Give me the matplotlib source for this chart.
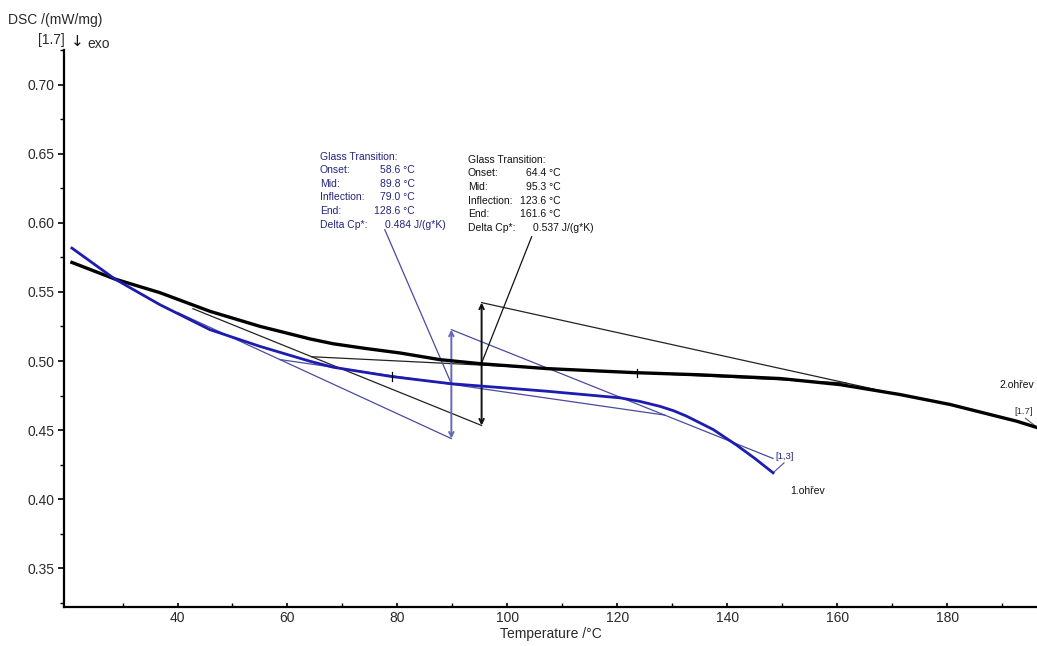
import matplotlib
matplotlib.use("Agg")
import matplotlib.pyplot as plt
from matplotlib.ticker import MultipleLocator, FixedLocator

plt.rcParams['font.family'] = ['Liberation Sans', 'DejaVu Sans']

# 1st heating (blue) - temperature / DSC
t1 = [20.8, 28.6, 36.8, 45.9, 55.0, 64.1, 68.3, 79.0, 89.6, 98.6, 107.2,
      120.5, 124.0, 127.7, 130.2, 132.6, 134.5, 137.4, 141.7, 145.0, 148.3]
dsc1 = [0.5818, 0.5594, 0.5408, 0.5227, 0.5106, 0.4998, 0.4955, 0.4887, 0.4836,
        0.4808, 0.4781, 0.4733, 0.4708, 0.4672, 0.4640, 0.4600, 0.4562, 0.4504,
        0.4390, 0.4294, 0.4190]

# 2nd heating (black)
t2 = [20.8, 28.6, 36.8, 45.9, 55.0, 64.1, 68.3, 74.0, 80.5, 87.7, 95.2, 107.2,
      123.0, 135.0, 149.6, 160.5, 171.4, 180.5, 192.6, 196.3]
dsc2 = [0.5714, 0.5594, 0.5495, 0.5360, 0.5251, 0.5160, 0.5125, 0.5092, 0.5058,
        0.5010, 0.4980, 0.4945, 0.4916, 0.4900, 0.4873, 0.4829, 0.4757, 0.4685,
        0.4564, 0.4518]

# glass transition evaluations
gt1 = {'onset': 58.6, 'mid': 89.8, 'infl': 79.0, 'end': 128.6, 'dcp': 0.484}
gt2 = {'onset': 64.4, 'mid': 95.3, 'infl': 123.6, 'end': 161.6, 'dcp': 0.537}

# baselines: (T start, v start, T end, v end)
base1_pre = (40.0, 0.5352, 89.8, 0.4438)
base1_post = (89.8, 0.5227, 148.3, 0.4294)
base2_pre = (42.8, 0.5379, 95.3, 0.4533)
base2_post = (95.3, 0.5423, 167.7, 0.4787)


def on_line(line, t):
    t0, v0, t1_, v1 = line
    return v0 + (v1 - v0) * (t - t0) / (t1_ - t0)


def interp(ts, vs, t):
    for i in range(len(ts) - 1):
        if ts[i] <= t <= ts[i + 1]:
            return vs[i] + (vs[i + 1] - vs[i]) * (t - ts[i]) / (ts[i + 1] - ts[i])
    return vs[-1]


blue = '#1c1cb0'
blue_thin = '#4b4b9e'
blue_arrow = '#6767b8'
blue_text = '#24247e'

fig = plt.figure(figsize=(10.37, 6.46), dpi=100)
ax = fig.add_axes([64 / 1037, 1 - 607 / 646, 1 - 64 / 1037, (607 - 50) / 646])

ax.plot(t2, dsc2, color='black', lw=2.4, zorder=5, solid_joinstyle='round')
ax.plot(t1, dsc1, color=blue, lw=2.0, zorder=5, solid_joinstyle='round')


def construction(gt, pre, post, line_col, arrow_col, curve_t, curve_v):
    ax.plot([pre[0], pre[2]], [pre[1], pre[3]], color=line_col, lw=0.9)
    ax.plot([post[0], post[2]], [post[1], post[3]], color=line_col, lw=0.9)
    ax.plot([gt['onset'], gt['end']],
            [on_line(pre, gt['onset']), on_line(post, gt['end'])], color=line_col, lw=0.9)
    ax.annotate('', xy=(gt['mid'], pre[3]), xytext=(gt['mid'], post[1]),
                arrowprops=dict(arrowstyle='<->', color=arrow_col, lw=1.4,
                                shrinkA=0, shrinkB=0, mutation_scale=8))
    vi = interp(curve_t, curve_v, gt['infl'])
    ax.plot([gt['infl'], gt['infl']], [vi - 0.003, vi + 0.003], color='black', lw=0.9, zorder=6)


construction(gt1, base1_pre, base1_post, blue_thin, blue_arrow, t1, dsc1)
construction(gt2, base2_pre, base2_post, '#222222', '#111111', t2, dsc2)

# leader lines from the result boxes to the mid points
ax.plot([77.7, gt1['mid']], [0.5951, interp(t1, dsc1, gt1['mid'])], color=blue_thin, lw=0.9)
ax.plot([104.4, gt2['mid']], [0.5900, 0.4985], color='#111111', lw=0.9)


def result_box(x, y, gt, col, val_right, dcp_left):
    rows = [('Onset:', '%.1f °C' % gt['onset']), ('Mid:', '%.1f °C' % gt['mid']),
            ('Inflection:', '%.1f °C' % gt['infl']), ('End:', '%.1f °C' % gt['end'])]
    dy = 13.5
    fs = 7.5
    fig.text(x / 1037, 1 - y / 646, 'Glass Transition:', color=col, fontsize=fs,
             va='center', ha='left')
    for i, (lab, val) in enumerate(rows, 1):
        yy = 1 - (y + i * dy) / 646
        fig.text(x / 1037, yy, lab, color=col, fontsize=fs, va='center', ha='left')
        fig.text(val_right / 1037, yy, val, color=col, fontsize=fs, va='center', ha='right')
    yy = 1 - (y + 5 * dy) / 646
    fig.text(x / 1037, yy, 'Delta Cp*:', color=col, fontsize=fs, va='center', ha='left')
    fig.text(dcp_left / 1037, yy, '%.3f J/(g*K)' % gt['dcp'], color=col, fontsize=fs,
             va='center', ha='left')


result_box(320, 157, gt1, blue_text, 415, 385)
result_box(468, 160, gt2, '#111111', 561, 533)

# curve labels
ax.text(189.5, 0.4829, '2.ohřev', fontsize=7.5, color='#111111', va='center')
ax.text(192.2, 0.4634, '[1.7]', fontsize=6.8, color='#333333', va='center')
ax.plot([194.2, 196.3], [0.4585, 0.4520], color='#555555', lw=0.8)
ax.text(148.8, 0.4308, '[1,3]', fontsize=6.8, color=blue_text, va='center')
ax.plot([150.3, 148.3], [0.4262, 0.4190], color=blue_thin, lw=0.8)
ax.text(151.4, 0.4055, '1.ohřev', fontsize=7.5, color='#111111', va='center')

ax.set_xlim(19.36, 196.3)
ax.set_ylim(0.3218, 0.7253)

for s in ['top', 'right']:
    ax.spines[s].set_visible(False)
for s in ['left', 'bottom']:
    ax.spines[s].set_linewidth(1.6)

ax.xaxis.set_major_locator(FixedLocator(range(40, 200, 20)))
ax.xaxis.set_minor_locator(FixedLocator(range(30, 200, 20)))
ax.yaxis.set_major_locator(MultipleLocator(0.05))
ax.yaxis.set_minor_locator(MultipleLocator(0.025))
ax.yaxis.set_major_formatter(plt.FuncFormatter(lambda v, p: '%.2f' % v))
ax.tick_params(axis='both', which='major', length=4, width=1.2, labelsize=10,
               labelcolor='#2a2a2a', direction='out', pad=3)
ax.tick_params(axis='both', which='minor', length=3, width=1.0, direction='out')
ax.tick_params(axis='x', which='both', direction='in', length=3)

ax.set_xlabel('Temperature /°C', fontsize=10, color='#2a2a2a', labelpad=1)

fig.text(8 / 1037, 1 - 20 / 646, 'DSC /(mW/mg)', fontsize=10, color='#2a2a2a', va='center')
fig.text(38 / 1037, 1 - 40 / 646, '[1.7]', fontsize=10, color='#2a2a2a', va='center')
fig.text(77 / 1037, 1 - 41 / 646, '↓', fontsize=11, color='#111111', va='center', ha='center',
         family=['DejaVu Sans'])
fig.text(87 / 1037, 1 - 44 / 646, 'exo', fontsize=10, color='#2a2a2a', va='center')

fig.savefig('out.png', dpi=100)
